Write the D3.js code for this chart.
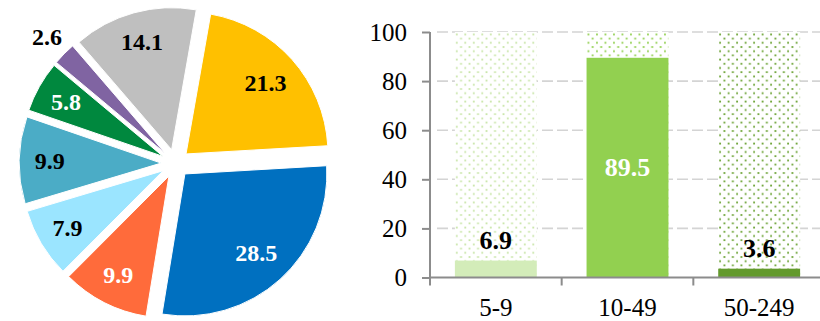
<!DOCTYPE html>
<html>
<head>
<meta charset="utf-8">
<script src="https://cdn.jsdelivr.net/npm/d3@7"></script>
<style>
  html, body { margin: 0; padding: 0; background: #fff; }
  svg { display: block; }
</style>
</head>
<body>
<svg id="chart" width="820" height="321"></svg>
<script>
// Pie: shares by slice, drawn clockwise
const pieValues = [21.3, 28.5, 9.9, 7.9, 9.9, 5.8, 2.6, 14.1];
const pieColors = ["#FFC000", "#0070C0", "#FF6B3B", "#9BE5FF", "#4BACC6", "#00883E", "#8064A2", "#BFBFBF"];
const pieLabelColors = ["#000", "#fff", "#fff", "#000", "#000", "#fff", "#000", "#000"];

// Bars: share by size class, on a 0–100 background
const barCategories = ["5-9", "10-49", "50-249"];
const barValues = [6.9, 89.5, 3.6];
const barColors = ["#D3ECB9", "#92D050", "#639A2D"];
const barDotColors = ["#C9E6A8", "#92D050", "#6AA232"];
const barLabelColors = ["#000", "#fff", "#000"];
const yTicks = [0, 20, 40, 60, 80, 100];
const barMax = 100;

const FONT = "Liberation Serif, Tinos, Times New Roman, DejaVu Serif, serif";
const svg = d3.select("#chart").style("font-family", FONT);

// ---------- Exploded pie ----------
const cx = 175.4, cy = 163.4, R = 142, explode = 14.2;
const pie = d3.pie().sort(null).value(d => d)
  .startAngle(10 * Math.PI / 180)
  .endAngle(370 * Math.PI / 180);
const arcs = pie(pieValues);
const arc = d3.arc().innerRadius(0).outerRadius(R);

const pieG = svg.append("g").attr("transform", `translate(${cx},${cy})`);
const slice = pieG.selectAll("g.slice").data(arcs).join("g")
  .attr("class", "slice")
  .attr("transform", d => {
    const a = (d.startAngle + d.endAngle) / 2;
    return `translate(${explode * Math.sin(a)},${-explode * Math.cos(a)})`;
  });

slice.append("path")
  .attr("d", arc)
  .attr("fill", (d, i) => pieColors[i])
  .attr("stroke", "#fff")
  .attr("stroke-width", 1);

slice.append("text")
  .attr("transform", d => {
    const a = (d.startAngle + d.endAngle) / 2;
    const share = d.value / d3.sum(pieValues);
    const k = share < 0.04 ? 1.17 : (share > 0.2 ? 0.75 : 0.785);
    return `translate(${k * R * Math.sin(a)},${-k * R * Math.cos(a)})`;
  })
  .attr("text-anchor", "middle")
  .attr("dominant-baseline", "central")
  .style("font-family", FONT)
  .attr("font-size", 24)
  .attr("font-weight", "bold")
  .attr("fill", (d, i) => pieLabelColors[i])
  .text(d => d3.format(".1f")(d.value));

// ---------- Bar chart ----------
const x0 = 430, x1 = 825;
const x = d3.scaleBand().domain(barCategories).range([x0, x1]).paddingInner(0).paddingOuter(0);
const y = d3.scaleLinear().domain([0, barMax]).range([277.5, 32]);
const barW = x.bandwidth() * 0.622;
const barX = c => x(c) + (x.bandwidth() - barW) / 2;

// dotted fills for the background columns
const defs = svg.append("defs");
barDotColors.forEach((col, i) => {
  const p = defs.append("pattern")
    .attr("id", "dots" + i)
    .attr("patternUnits", "userSpaceOnUse")
    .attr("width", 8.5).attr("height", 8.4)
    .attr("x", barX(barCategories[i])).attr("y", y(barMax));
  p.append("rect").attr("width", 8.5).attr("height", 8.4).attr("fill", "#fff");
  p.append("rect").attr("x", 1).attr("y", 1.5).attr("width", 1.8).attr("height", 1.8).attr("fill", col);
  p.append("rect").attr("x", 5.25).attr("y", 5.7).attr("width", 1.8).attr("height", 1.8).attr("fill", col);
});

// dashed gridlines
svg.append("g").selectAll("line").data(yTicks.filter(t => t > 0)).join("line")
  .attr("x1", 437).attr("x2", x1)
  .attr("y1", d => y(d)).attr("y2", d => y(d))
  .attr("stroke", "#D4D4D4")
  .attr("stroke-width", 1.6)
  .attr("stroke-dasharray", "11,4");

// dotted background columns
svg.append("g").selectAll("rect").data(barCategories).join("rect")
  .attr("x", d => barX(d))
  .attr("y", y(barMax))
  .attr("width", barW)
  .attr("height", y(0) - y(barMax))
  .attr("fill", (d, i) => `url(#dots${i})`);

// value bars
svg.append("g").selectAll("rect").data(barValues).join("rect")
  .attr("x", (d, i) => barX(barCategories[i]))
  .attr("y", d => y(d))
  .attr("width", barW)
  .attr("height", d => y(0) - y(d))
  .attr("fill", (d, i) => barColors[i]);

// y axis
const yAxis = svg.append("g").attr("transform", `translate(${x0},0)`)
  .call(d3.axisLeft(y).tickValues(yTicks).tickSize(8).tickSizeOuter(0).tickPadding(15));
yAxis.attr("font-family", null).style("font-family", FONT).attr("font-size", 25);
yAxis.select(".domain").remove();
yAxis.selectAll(".tick line").attr("stroke", "#8C8C8C").attr("stroke-width", 2);
yAxis.selectAll(".tick text").attr("fill", "#000").style("font-family", FONT);
svg.append("line")
  .attr("x1", x0).attr("x2", x0)
  .attr("y1", y(barMax)).attr("y2", y(0) + 8)
  .attr("stroke", "#8C8C8C").attr("stroke-width", 2);

// x axis: baseline, boundary ticks and category labels
svg.append("line")
  .attr("x1", x0).attr("x2", x1)
  .attr("y1", y(0)).attr("y2", y(0))
  .attr("stroke", "#8C8C8C").attr("stroke-width", 2);
svg.append("g").selectAll("line").data(barCategories.slice(1).map(c => x(c)).concat([x1])).join("line")
  .attr("x1", d => d).attr("x2", d => d)
  .attr("y1", y(0)).attr("y2", y(0) + 8)
  .attr("stroke", "#8C8C8C").attr("stroke-width", 2);
svg.append("g").selectAll("text").data(barCategories).join("text")
  .attr("x", d => x(d) + x.bandwidth() / 2)
  .attr("y", 316)
  .attr("text-anchor", "middle")
  .style("font-family", FONT)
  .attr("font-size", 25)
  .attr("fill", "#000")
  .text(d => d);

// value labels
svg.append("g").selectAll("text").data(barValues).join("text")
  .attr("x", (d, i) => x(barCategories[i]) + x.bandwidth() / 2)
  .attr("y", d => d > 50 ? (y(d) + y(0)) / 2 : y(d) - 12)
  .attr("dominant-baseline", d => d > 50 ? "central" : "auto")
  .attr("text-anchor", "middle")
  .style("font-family", FONT)
  .attr("font-size", 26)
  .attr("font-weight", "bold")
  .attr("fill", (d, i) => barLabelColors[i])
  .text(d => d3.format(".1f")(d));
</script>
</body>
</html>
